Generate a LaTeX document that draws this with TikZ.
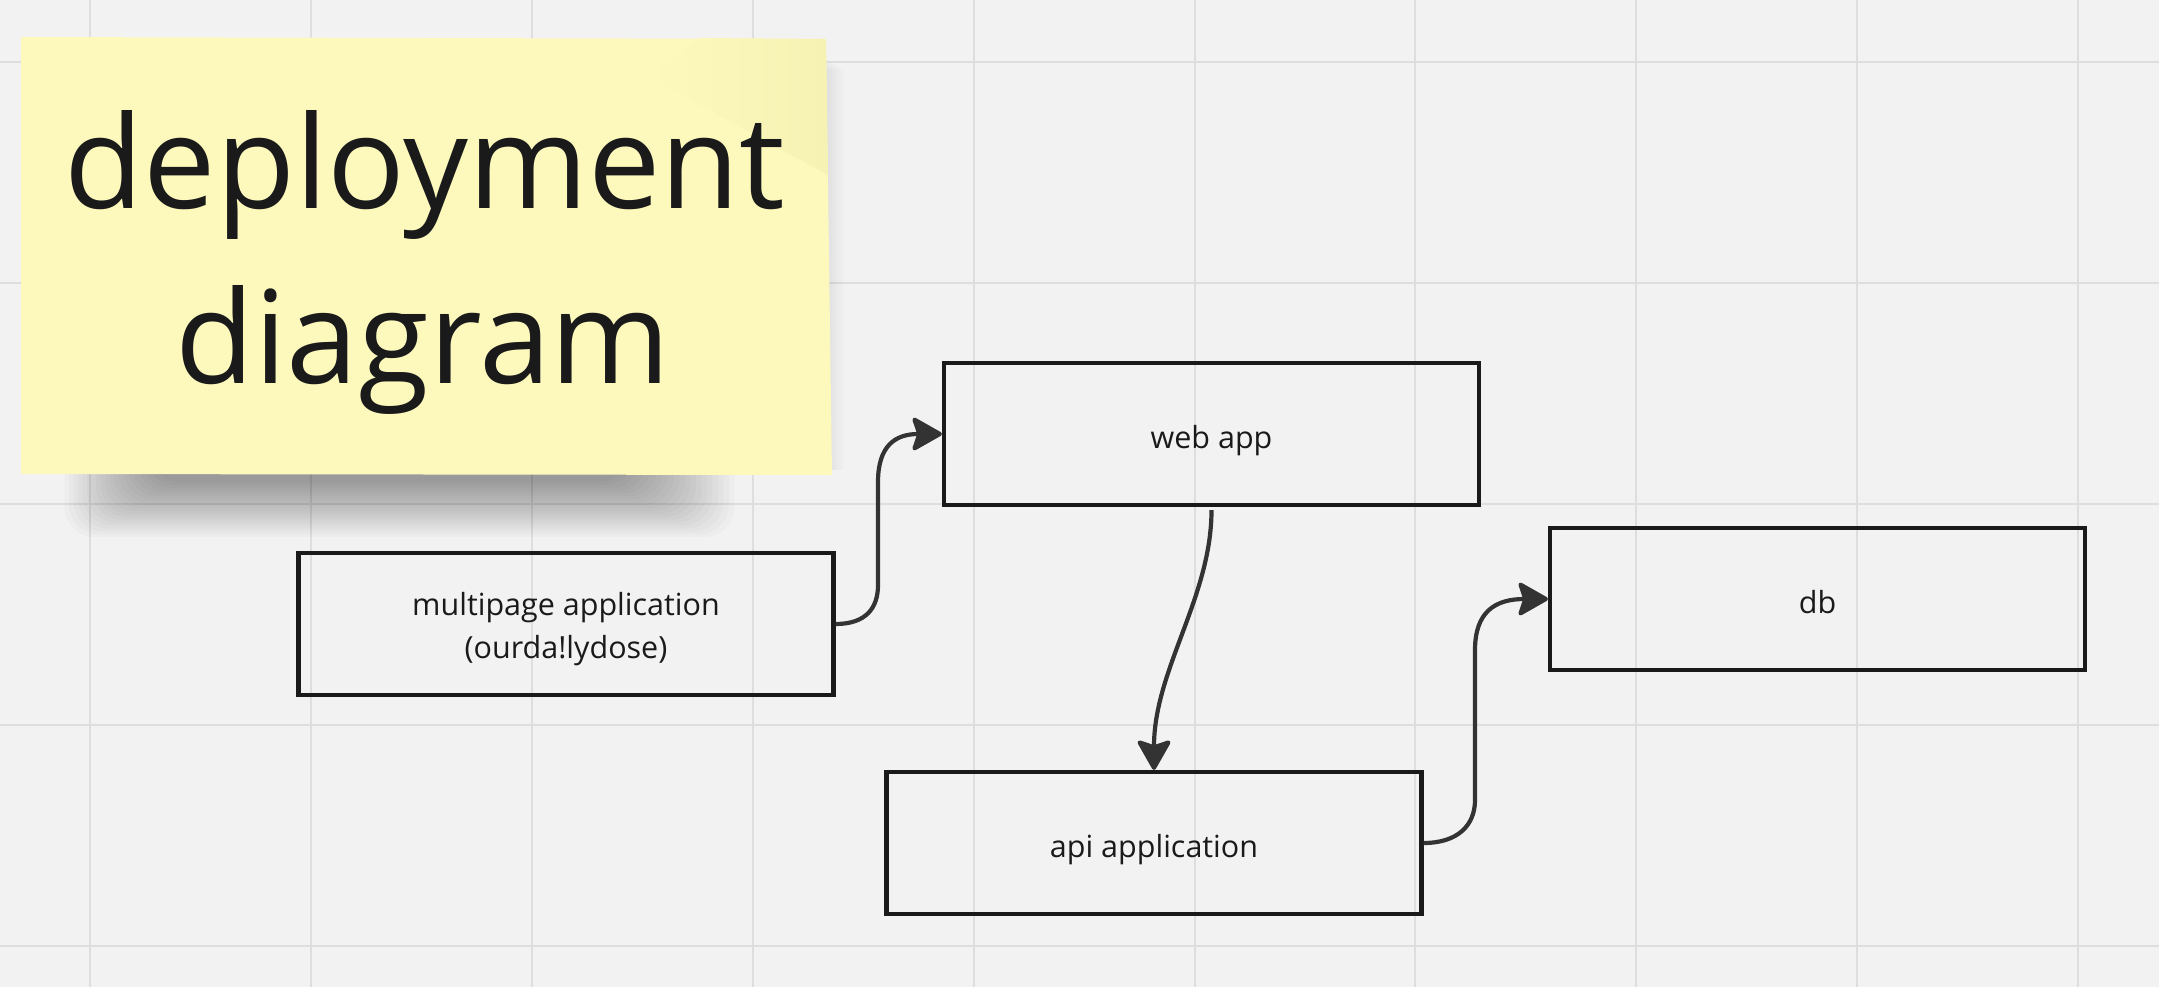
\documentclass[tikz,border=0pt]{standalone}
\usepackage{fontspec}
\setmainfont{Open Sans}
\usetikzlibrary{arrows.meta}
\definecolor{bg}{RGB}{242,242,242}
\definecolor{gridc}{RGB}{222,222,222}
\definecolor{sticky}{RGB}{253,249,189}
\definecolor{stickydark}{RGB}{246,242,180}
\definecolor{ink}{RGB}{26,26,26}
\definecolor{conncol}{RGB}{51,51,51}
\begin{document}
\begin{tikzpicture}[x=1pt,y=-1pt,
  boxbase/.style={draw=ink, line width=4.2pt, minimum width=535pt, minimum height=142pt, inner sep=0pt, text=ink, font=\fontsize{30.5}{43}\selectfont, align=center},
  box/.style={boxbase, text height=29pt, text depth=0pt},
  box2/.style={boxbase},
  conn/.style={draw=conncol, line width=4.2pt, -{Stealth[length=33pt,width=37pt,inset=6pt,round]}},
  gridline/.style={draw=gridc, line width=2pt},
  title/.style={text=ink, font=\fontsize{129}{175}\selectfont, anchor=base, inner sep=0pt}]
\fill[bg] (0,0) rectangle (2159,987);
\useasboundingbox (0,0) rectangle (2159,987);
% grid
\foreach \i in {0,...,9} \draw[gridline] ({90+220.9*\i},0) -- ({90+220.9*\i},987);
\foreach \i in {0,...,4} \draw[gridline] (0,{62+220.9*\i}) -- (2159,{62+220.9*\i});
% sticky shadow
\foreach \i in {0,...,19} \fill[black, opacity=0.018, rounded corners=30pt] ({150-4.5*\i},440) rectangle ({630+5.5*\i},{482+2.9*\i});
\foreach \i in {0,...,5} \fill[black, opacity=0.012] ({700},{60+2*\i}) rectangle ({829+3*\i},{470});
% sticky note
\fill[sticky] (21,37) -- (826,39) -- (832,475) -- (21,474) -- cycle;
\shade[left color=sticky, right color=stickydark] (648,77) -- (828,175) -- (826,39) -- (700,38) -- cycle;
\node[title] (t1) at (425,208) {deployment};
\node[title] (t2) at (423,383) {diagram};
% boxes
\node[box] (w) at (1211.5,434) {web app};
\node[box2] (m) at (566,624) {\rule{0pt}{33pt}multipage application\\(ourda!lydose)};
\node[box] (a) at (1154,843) {api application};
\node[box] (d) at (1817.5,599) {db};
% connectors
\draw[conn] (m.east) .. controls (866,624) and (878,608) .. (878,585) -- (878,482) .. controls (878,446) and (895,434) .. (w.west);
\draw[conn, shorten <=3pt] (w.south) .. controls +(0,90) and +(0,-100) .. (a.north);
\draw[conn] (a.east) .. controls (1458,843) and (1475,825) .. (1475,800) -- (1475,650) .. controls (1475,612) and (1495,599) .. (d.west);
\end{tikzpicture}
\end{document}
